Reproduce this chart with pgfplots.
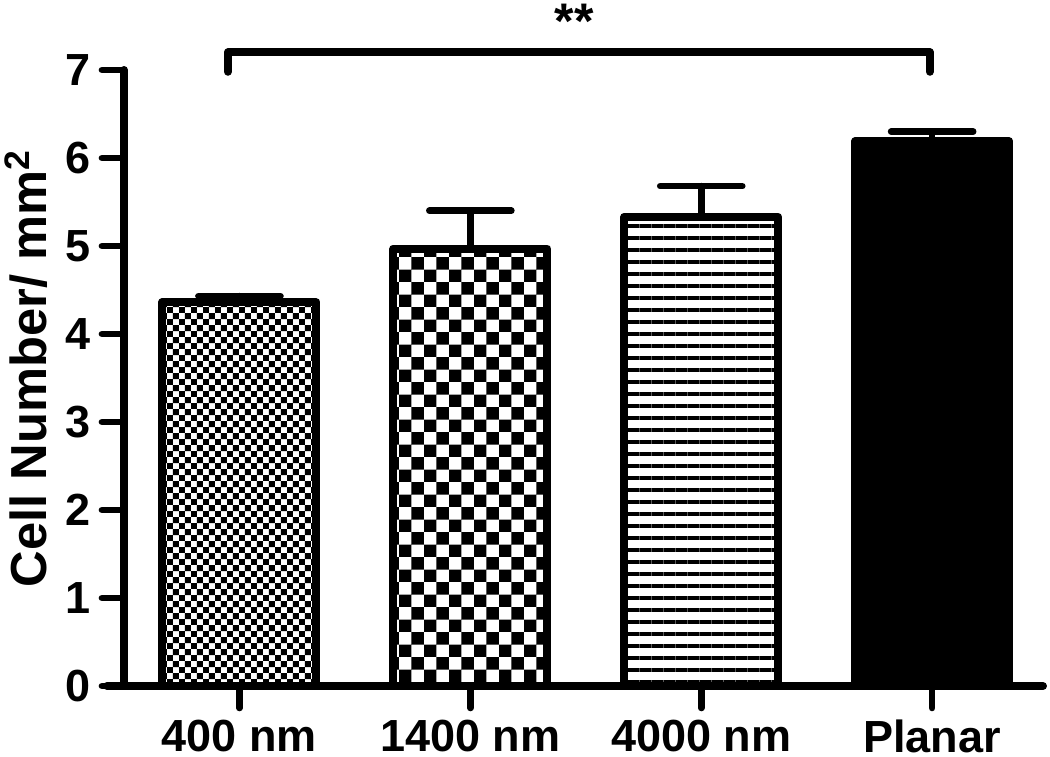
\documentclass[border=0pt]{standalone}
\usepackage{fontspec}
\setmainfont{Liberation Sans}
\usepackage{pgfplots}
\pgfplotsset{compat=1.18}
\usetikzlibrary{patterns.meta}

% small checkerboard (400 nm)
\tikzdeclarepattern{
  name=finecheck,
  bottom left={(0pt,0pt)},
  top right={(3.6pt,3.6pt)},
  tile size={(3.6pt,3.6pt)},
  code={
    \pgfpathrectangle{\pgfpointorigin}{\pgfpoint{1.8pt}{1.8pt}}
    \pgfpathrectangle{\pgfpoint{1.8pt}{1.8pt}}{\pgfpoint{1.8pt}{1.8pt}}
    \pgfusepath{fill}
  }
}
% large checkerboard (1400 nm)
\tikzdeclarepattern{
  name=coarsecheck,
  bottom left={(0pt,0pt)},
  top right={(7.5pt,7.5pt)},
  tile size={(7.5pt,7.5pt)},
  code={
    \pgfpathrectangle{\pgfpointorigin}{\pgfpoint{3.75pt}{3.75pt}}
    \pgfpathrectangle{\pgfpoint{3.75pt}{3.75pt}}{\pgfpoint{3.75pt}{3.75pt}}
    \pgfusepath{fill}
  }
}
% horizontal stripes (4000 nm)
\tikzdeclarepattern{
  name=hstripes,
  bottom left={(0pt,0pt)},
  top right={(3.7pt,3.7pt)},
  tile size={(3.7pt,3.7pt)},
  code={
    \pgfpathrectangle{\pgfpointorigin}{\pgfpoint{3.7pt}{1.2pt}}
    \pgfusepath{fill}
  }
}

\newcommand{\lblfont}{\fontsize{13.5}{16}\selectfont\bfseries}

\pgfplotsset{
  mybar/.style={ybar, bar width=46.2pt, bar shift=0pt, draw=black,
    line width=2.4pt, line join=round,
    error bars/y dir=plus, error bars/y explicit,
    error bars/error bar style={line width=2pt, black, line cap=round},
    error bars/error mark options={rotate=90, line width=2pt, mark size=12.3pt, black, line cap=round}},
}

\begin{document}
\begin{tikzpicture}
\begin{axis}[
  name=ax,
  scale only axis,
  width=275.7pt, height=184.8pt,
  xmin=-0.5, xmax=3.48, ymin=0, ymax=7,
  enlargelimits=false,
  clip=false,
  axis lines=left,
  axis line style={-, line width=2.4pt, line cap=round},
  xtick={0,1,2,3},
  xticklabels={400 nm,1400 nm,4000 nm,Planar},
  ytick={0,1,2,3,4,5,6,7},
  tick align=outside,
  major tick length=6.6pt,
  tick style={line width=2pt, black, line cap=round},
  ticklabel style={font=\lblfont},
  /pgf/number format/assume math mode=true,
  ylabel={Cell Number/ mm\textsuperscript{2}},
  ylabel style={font=\fontsize{15.2}{18}\selectfont\bfseries,
    at={(axis description cs:-0.1066,0.516)}, anchor=center},
]
\addplot[mybar, pattern=finecheck, pattern color=black]
  coordinates {(0,4.36) +- (0,0.07)};
\addplot[mybar, pattern=coarsecheck, pattern color=black]
  coordinates {(1,4.97) +- (0,0.43)};
\addplot[mybar, pattern=hstripes, pattern color=black]
  coordinates {(2,5.33) +- (0,0.35)};
\addplot[mybar, fill=black]
  coordinates {(3,6.19) +- (0,0.11)};

% x axis runs a little past the y axis
\draw[line width=2.4pt, line cap=round] (axis cs:-0.5,0) -- ++(-5.1pt,0pt);

% significance bracket
\draw[line width=2.4pt, line cap=round, line join=round]
  (axis cs:-0.05,6.98) -- (axis cs:-0.05,7.2) -- (axis cs:2.99,7.2) -- (axis cs:2.99,6.98);
\node[font=\fontsize{15}{18}\selectfont\bfseries] at (axis cs:1.45,7.55) {**};
\end{axis}
\pgfresetboundingbox
\useasboundingbox ([shift={(-37.2pt,-21.3pt)}]ax.south west) rectangle ([shift={(2.1pt,21pt)}]ax.north east);
\end{tikzpicture}
\end{document}
